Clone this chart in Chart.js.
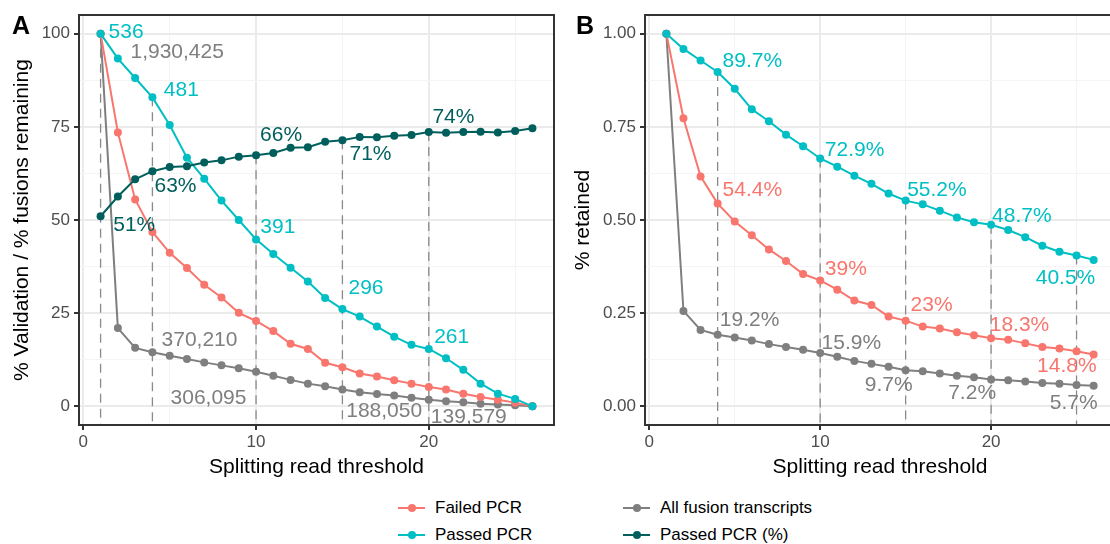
<!DOCTYPE html>
<html>
<head>
<meta charset="utf-8">
<script src="https://cdn.jsdelivr.net/npm/chart.js@4.4.1/dist/chart.umd.min.js"></script>
<style>
  html, body { margin: 0; padding: 0; background: #fff; }
  body { width: 1110px; height: 544px; position: relative; overflow: hidden; font-family: "Liberation Sans", Arial, sans-serif; }
  canvas { position: absolute; top: 0; }
  #chartA { left: 0; }
  #chartB { left: 565px; }
  .tag { position: absolute; font-weight: bold; font-size: 25px; line-height: 1; color: #000; }
  .item { position: absolute; font-size: 17px; line-height: 20px; height: 20px; color: #000; white-space: nowrap; }
  .key { display: inline-block; position: relative; width: 27px; height: 20px; vertical-align: top; margin-right: 10px; }
  .key::before { content: ''; position: absolute; left: 0; right: 0; top: 9px; height: 2px; background: var(--c); }
  .key::after { content: ''; position: absolute; left: 9.5px; top: 6px; width: 8px; height: 8px; border-radius: 50%; background: var(--c); }
</style>
</head>
<body>
<canvas id="chartA" width="560" height="480"></canvas>
<canvas id="chartB" width="560" height="480"></canvas>
<div class="tag" style="left:12px; top:13px;">A</div>
<div class="tag" style="left:576px; top:13px;">B</div>

<div class="item" style="left:398px; top:498px;"><span class="key" style="--c:#F8766D"></span>Failed PCR</div>
<div class="item" style="left:398px; top:525px;"><span class="key" style="--c:#00BFC4"></span>Passed PCR</div>
<div class="item" style="left:623px; top:498px;"><span class="key" style="--c:#7F7F7F"></span>All fusion transcripts</div>
<div class="item" style="left:623px; top:525px;"><span class="key" style="--c:#005F5C"></span>Passed PCR (%)</div>

<script>
// splitting read thresholds
const thresholds = [1, 2, 3, 4, 5, 6, 7, 8, 9, 10, 11, 12, 13, 14, 15, 16, 17, 18, 19, 20, 21, 22, 23, 24, 25, 26];

// panel A: % validation / % fusions remaining
const failedA = [100, 73.5, 55.5, 46.8, 41.2, 37.1, 32.6, 29.2, 25.1, 22.9, 20.2, 16.8, 15.4, 11.7, 10.5, 8.8, 8.0, 7.0, 6.1, 5.2, 4.5, 3.4, 2.5, 1.8, 1.0, 0];
const passedA = [100, 93.3, 88.1, 82.9, 75.5, 66.7, 61.1, 55.2, 50.0, 44.8, 40.9, 37.2, 33.5, 29.1, 26.1, 24.1, 21.4, 18.7, 16.5, 15.4, 12.9, 9.8, 6.1, 3.4, 2.0, 0];
const allA = [100, 21.0, 15.7, 14.5, 13.6, 12.7, 11.8, 11.0, 10.2, 9.3, 8.2, 7.1, 6.1, 5.4, 4.5, 3.8, 3.3, 2.9, 2.3, 1.8, 1.4, 1.1, 0.7, 0.5, 0.3, 0];
const passedPctA = [51, 56.3, 60.9, 63.1, 64.2, 64.4, 65.4, 66.0, 67.0, 67.4, 68.0, 69.4, 69.5, 71.0, 71.4, 72.3, 72.2, 72.6, 72.8, 73.6, 73.4, 73.6, 73.7, 73.5, 73.9, 74.6];

// counts written next to the curves in panel A
const passedCounts = [536, 481, 391, 296, 261];
const fusionCounts = [1930425, 370210, 306095, 188050, 139579];

// panel B: fraction retained
const failedB = [1, 0.773, 0.617, 0.544, 0.496, 0.459, 0.421, 0.390, 0.355, 0.338, 0.313, 0.284, 0.272, 0.241, 0.230, 0.214, 0.209, 0.199, 0.191, 0.183, 0.179, 0.169, 0.159, 0.155, 0.148, 0.139];
const passedB = [1, 0.959, 0.928, 0.897, 0.852, 0.797, 0.765, 0.729, 0.698, 0.665, 0.643, 0.619, 0.597, 0.571, 0.552, 0.542, 0.525, 0.507, 0.494, 0.487, 0.473, 0.454, 0.431, 0.415, 0.405, 0.393];
const allB = [1, 0.256, 0.205, 0.192, 0.185, 0.177, 0.167, 0.159, 0.152, 0.143, 0.133, 0.122, 0.114, 0.106, 0.097, 0.094, 0.088, 0.082, 0.078, 0.072, 0.070, 0.067, 0.063, 0.061, 0.057, 0.055];

// thresholds marked with a dashed drop line
const dropsA = [1, 4, 10, 15, 20];
const dropsB = [4, 10, 15, 20, 25];
// indices of the values quoted in the labels
const quotedA = [0, 3, 7, 14, 19];
const quotedB = [3, 7, 14, 19, 24];

const FONT = '"Liberation Sans", Arial, sans-serif';
const RED = '#F8766D', CYAN = '#00BFC4', GREY = '#7F7F7F', TEAL = '#005F5C';

// label anchors (left edge, vertical centre) in data units
const placeA = {
  passed: [[1.46, 100.5], [4.66, 84.7], [10.25, 48.1], [15.35, 31.6], [20.31, 18.6]],
  fusion: [[2.73, 95.0], [4.53, 17.7], [5.05, 2.2], [15.22, -1.3], [20.12, -2.9]],
  pct: [[1.73, 48.5], [4.12, 59.2], [10.23, 72.7], [15.41, 67.6], [20.21, 77.6]]
};
const placeB = {
  passed: [[4.29, 0.927], [10.27, 0.686], [15.09, 0.579], [20.06, 0.511], [22.61, 0.344]],
  failed: [[4.29, 0.580], [10.27, 0.368], [15.29, 0.272], [19.92, 0.219], [22.69, 0.107]],
  all: [[4.13, 0.230], [10.08, 0.170], [12.61, 0.058], [17.49, 0.034], [23.43, 0.009]]
};

const fmtPct = v => `${+(v * 100).toFixed(1)}%`;

const notesA = [
  ...passedCounts.map((c, i) => ({ text: c.toLocaleString('en-US'), color: CYAN, at: placeA.passed[i] })),
  ...fusionCounts.map((c, i) => ({ text: c.toLocaleString('en-US'), color: GREY, at: placeA.fusion[i] })),
  ...quotedA.map((k, i) => ({ text: `${Math.round(passedPctA[k])}%`, color: TEAL, at: placeA.pct[i] }))
];
const notesB = [
  ...quotedB.map((k, i) => ({ text: fmtPct(passedB[k]), color: CYAN, at: placeB.passed[i] })),
  ...quotedB.map((k, i) => ({ text: fmtPct(failedB[k]), color: RED, at: placeB.failed[i] })),
  ...quotedB.map((k, i) => ({ text: fmtPct(allB[k]), color: GREY, at: placeB.all[i] }))
];

function series(label, values, color) {
  return {
    label: label,
    data: thresholds.map((t, i) => ({ x: t, y: values[i] })),
    borderColor: color,
    backgroundColor: color,
    borderWidth: 2,
    pointRadius: 4,
    pointBorderWidth: 0,
    tension: 0
  };
}

// dashed line from the highest curve at a threshold down to the panel floor
function drops(xs, allSeries, floor) {
  return xs.map(x => {
    const i = thresholds.indexOf(x);
    const top = Math.max(...allSeries.map(s => s[i]));
    return {
      label: 'drop',
      data: [{ x: x, y: top }, { x: x, y: floor }],
      borderColor: '#8a8a8a',
      borderWidth: 1.3,
      borderDash: [9, 6],
      pointRadius: 0
    };
  });
}

function panelPlugin(notes) {
  return {
    id: 'panel',
    afterDatasetsDraw(chart) {
      const { ctx, chartArea: a, scales: { x, y } } = chart;
      ctx.save();
      ctx.beginPath();
      ctx.rect(a.left, a.top, a.right - a.left, a.bottom - a.top);
      ctx.clip();
      ctx.font = `21px ${FONT}`;
      ctx.textAlign = 'left';
      ctx.textBaseline = 'middle';
      notes.forEach(n => {
        ctx.fillStyle = n.color;
        ctx.fillText(n.text, x.getPixelForValue(n.at[0]), y.getPixelForValue(n.at[1]));
      });
      ctx.restore();
    },
    afterDraw(chart) {
      const { ctx, chartArea: a } = chart;
      ctx.save();
      ctx.strokeStyle = '#333333';
      ctx.lineWidth = 2;
      ctx.strokeRect(a.left, a.top, a.right - a.left, a.bottom - a.top);
      ctx.restore();
    }
  };
}

function options(cfg) {
  const gridOf = isMajor => ({
    color: c => isMajor(c.tick.value) ? '#ebebeb' : '#f4f4f4',
    lineWidth: c => isMajor(c.tick.value) ? 2 : 1,
    tickColor: c => isMajor(c.tick.value) ? '#333333' : 'rgba(0,0,0,0)',
    tickLength: 5,
    tickWidth: 2
  });
  const majorX = v => v % 10 === 0;
  return {
    responsive: false,
    animation: false,
    layout: { padding: { top: 15, right: cfg.padRight, left: 0, bottom: 0 } },
    plugins: { legend: { display: false }, tooltip: { enabled: false } },
    scales: {
      x: {
        type: 'linear',
        min: -0.25,
        max: 27.25,
        afterFit: s => { s.height = 55; },
        border: { display: false },
        grid: gridOf(majorX),
        ticks: {
          stepSize: 5, includeBounds: false, autoSkip: false, maxRotation: 0, padding: 2,
          color: '#4d4d4d', font: { family: FONT, size: 17 },
          callback: v => majorX(v) ? String(v) : ''
        },
        title: {
          display: true, text: 'Splitting read threshold', color: '#000',
          font: { family: FONT, size: 21 }, padding: { top: 0, bottom: 0 }
        }
      },
      y: {
        type: 'linear',
        min: cfg.yMin,
        max: cfg.yMax,
        afterFit: s => { s.width = cfg.yWidth; },
        border: { display: false },
        grid: gridOf(cfg.majorY),
        ticks: {
          stepSize: cfg.step, includeBounds: false, autoSkip: false, padding: 4,
          color: '#4d4d4d', font: { family: FONT, size: 17 },
          callback: v => cfg.majorY(v) ? cfg.fmt(v) : ''
        },
        title: {
          display: true, text: cfg.title, color: '#000',
          font: { family: FONT, size: 21 }, padding: { top: cfg.titlePad, bottom: 0 }
        }
      }
    }
  };
}

new Chart(document.getElementById('chartA'), {
  type: 'line',
  data: {
    datasets: [
      series('Passed PCR (%)', passedPctA, TEAL),
      series('Passed PCR', passedA, CYAN),
      series('Failed PCR', failedA, RED),
      series('All fusion transcripts', allA, GREY),
      ...drops(dropsA, [failedA, passedA, allA, passedPctA], -5)
    ]
  },
  options: options({
    yMin: -5, yMax: 105, step: 12.5, yWidth: 79, padRight: 6, titlePad: 10,
    title: '% Validation / % fusions remaining',
    majorY: v => v % 25 === 0,
    fmt: v => String(v)
  }),
  plugins: [panelPlugin(notesA)]
});

new Chart(document.getElementById('chartB'), {
  type: 'line',
  data: {
    datasets: [
      series('Passed PCR', passedB, CYAN),
      series('Failed PCR', failedB, RED),
      series('All fusion transcripts', allB, GREY),
      ...drops(dropsB, [failedB, passedB, allB], -0.05)
    ]
  },
  options: options({
    yMin: -0.05, yMax: 1.05, step: 0.125, yWidth: 80, padRight: 10, titlePad: 6,
    title: '% retained',
    majorY: v => Math.abs(v * 4 - Math.round(v * 4)) < 1e-6,
    fmt: v => v.toFixed(2)
  }),
  plugins: [panelPlugin(notesB)]
});
</script>
</body>
</html>
